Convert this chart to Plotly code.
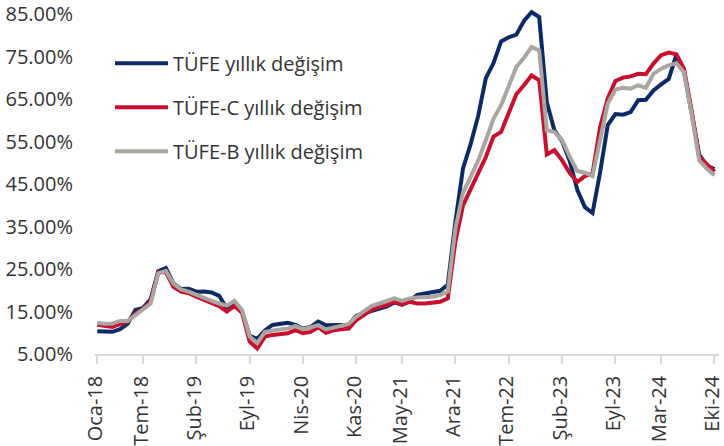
import plotly.graph_objects as go

months_tr = ["Oca", "Şub", "Mar", "Nis", "May", "Haz", "Tem", "Ağu", "Eyl", "Eki", "Kas", "Ara"]
dates = [f"{m}-{y % 100:02d}" for y in range(2018, 2025) for m in months_tr][:82]

tick_labels = ["Oca-18", "Tem-18", "Şub-19", "Eyl-19", "Nis-20", "Kas-20", "May-21",
               "Ara-21", "Tem-22", "Şub-23", "Eyl-23", "Mar-24", "Eki-24"]

y_ticks = [5, 15, 25, 35, 45, 55, 65, 75, 85]

tufe = [10.35, 10.26, 10.23, 10.85, 12.15, 15.39, 15.85, 17.90, 24.52, 25.24, 21.62, 20.30,
        20.35, 19.67, 19.71, 19.50, 18.71, 15.72, 16.65, 15.01, 9.26, 8.55, 10.56, 11.84,
        12.15, 12.37, 11.86, 10.94, 11.39, 12.62, 11.76, 11.77, 11.75, 11.89, 14.03, 14.60,
        14.97, 15.61, 16.19, 17.14, 16.59, 17.53, 18.95, 19.25, 19.58, 19.89, 21.31, 36.08,
        48.69, 54.44, 61.14, 69.97, 73.50, 78.62, 79.60, 80.21, 83.45, 85.51, 84.39, 64.27,
        57.68, 55.18, 50.51, 43.68, 39.59, 38.21, 47.83, 58.94, 61.53, 61.36, 61.98, 64.77,
        64.86, 67.07, 68.50, 69.80, 75.45, 71.60, 61.78, 51.97, 49.38, 48.58]

tufe_c = [11.9, 11.6, 11.4, 12.1, 12.6, 14.5, 15.6, 17.4, 24.2, 24.3, 20.8, 19.7,
          19.3, 18.5, 17.7, 16.9, 16.3, 15.0, 16.3, 14.7, 7.9, 6.3, 9.1, 9.5,
          9.7, 9.9, 10.6, 9.9, 10.2, 11.3, 10.0, 10.6, 10.8, 11.0, 13.0, 14.2,
          15.4, 16.1, 16.5, 17.3, 16.7, 17.3, 16.9, 16.9, 17.0, 17.3, 18.1, 31.5,
          40.0, 44.0, 47.6, 51.4, 56.2, 57.3, 61.6, 66.2, 68.3, 70.6, 69.5, 52.0,
          53.0, 50.6, 47.7, 45.5, 46.9, 47.5, 58.5, 65.2, 69.3, 70.1, 70.4, 71.0,
          70.9, 73.4, 75.4, 76.0, 75.6, 72.2, 62.4, 51.4, 49.7, 47.9]

tufe_b = [12.3, 12.1, 12.2, 12.8, 12.8, 14.2, 15.4, 16.9, 24.0, 24.6, 21.6, 20.2,
          19.7, 18.9, 18.3, 17.5, 16.9, 16.4, 17.5, 15.4, 9.1, 7.6, 10.2, 10.6,
          10.8, 11.0, 11.6, 10.8, 11.3, 11.8, 10.8, 11.3, 11.6, 12.1, 13.8, 15.0,
          16.3, 16.9, 17.5, 18.1, 17.5, 18.1, 18.3, 18.3, 18.5, 18.9, 19.7, 34.5,
          43.0, 46.7, 50.6, 55.4, 60.4, 63.6, 67.9, 72.6, 74.8, 77.3, 76.5, 57.7,
          57.3, 55.4, 51.5, 48.1, 47.7, 46.9, 55.4, 64.0, 67.3, 67.7, 67.5, 68.3,
          67.7, 71.0, 72.2, 73.0, 73.5, 71.4, 61.6, 50.6, 48.7, 47.1]

series = [
    ("TÜFE yıllık değişim", tufe, "#0b2a66"),
    ("TÜFE-C yıllık değişim", tufe_c, "#c8102e"),
    ("TÜFE-B yıllık değişim", tufe_b, "#aaa59e"),
]

fig = go.Figure()
for name, vals, color in series:
    fig.add_trace(go.Scatter(
        x=dates, y=vals, name=name, mode="lines",
        line=dict(color=color, width=4),
        legendgroup=name,
    ))

font = dict(family="Open Sans", size=20, color="#333333")
legend_font = dict(family="Open Sans", size=20, color="#333333")

fig.update_layout(
    width=724, height=446,
    margin=dict(l=95, r=5, t=8, b=92),
    paper_bgcolor="white", plot_bgcolor="white",
    font=font,
    showlegend=True,
    legend=dict(
        x=0.024, y=0.897, xanchor="left", yanchor="top",
        bgcolor="rgba(0,0,0,0)", font=legend_font,
        traceorder="grouped", tracegroupgap=15, itemwidth=53,
    ),
    xaxis=dict(
        type="category", categoryorder="array", categoryarray=dates,
        range=[-0.3, 81.6], automargin=False,
        tickmode="array", tickvals=tick_labels, ticktext=tick_labels,
        tickangle=-90, ticks="outside", ticklen=8, tickcolor="#d9d9d9", tickwidth=1.5,
        ticklabelshift=-2, ticklabelstandoff=4,
        showline=True, linecolor="#d9d9d9", linewidth=1.5,
        showgrid=False, zeroline=False, tickfont=font,
    ),
    yaxis=dict(
        range=[5, 86.5], tickmode="array", tickvals=y_ticks, automargin=False,
        ticktext=[f"{v:.2f}%" for v in y_ticks],
        showgrid=False, zeroline=False, showline=False, ticks="",
        ticklabelstandoff=21, tickfont=font,
    ),
)

fig.write_html("out.html", config={"displayModeBar": False},
               post_script="document.body.style.margin='0px';")
